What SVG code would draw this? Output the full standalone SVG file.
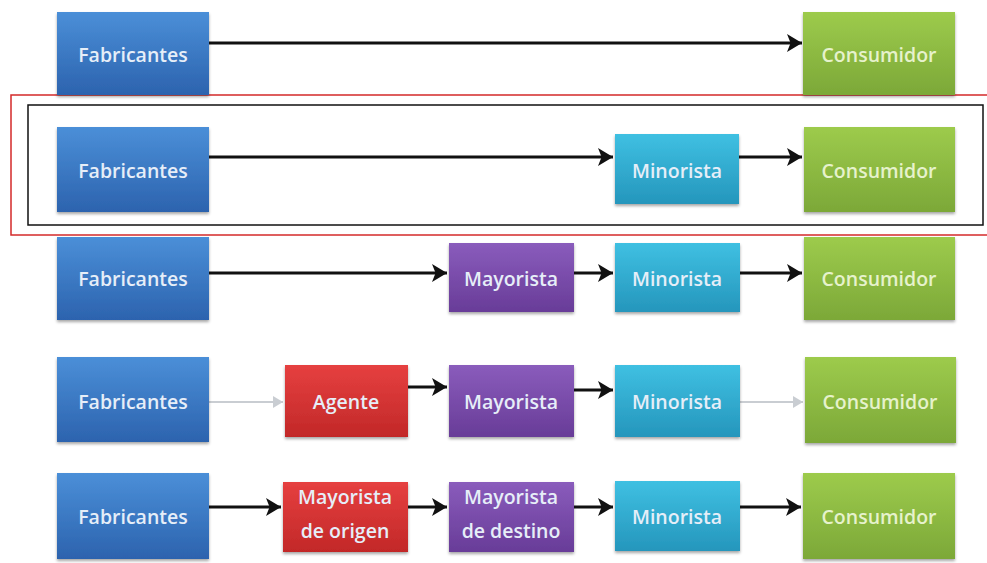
<svg xmlns="http://www.w3.org/2000/svg" width="987" height="563" viewBox="0 0 987 563">
<style>
text{font-family:"Open Sans","Liberation Sans",sans-serif;font-size:19.5px;font-weight:600;fill:#e6eef8;text-anchor:middle;dominant-baseline:central}
.green+text,.gt{fill:#e6f2cc}
.c{stroke:#111;stroke-width:3;fill:none;marker-end:url(#ah)}
.g{stroke:#c9cdd2;stroke-width:2;fill:none;marker-end:url(#ahg)}
.blue{fill:url(#gb)}.green{fill:url(#gg)}.cyan{fill:url(#gc)}.purple{fill:url(#gp)}.red{fill:url(#gr)}
rect.n{filter:url(#sh)}
</style>
<defs>
<linearGradient id="gb" x1="0" y1="0" x2="0" y2="1"><stop offset="0" stop-color="#4b8fd8"/><stop offset="1" stop-color="#2c63ae"/></linearGradient>
<linearGradient id="gg" x1="0" y1="0" x2="0" y2="1"><stop offset="0" stop-color="#9dcb4c"/><stop offset="1" stop-color="#7ca838"/></linearGradient>
<linearGradient id="gc" x1="0" y1="0" x2="0" y2="1"><stop offset="0" stop-color="#3fc0e2"/><stop offset="1" stop-color="#2596bc"/></linearGradient>
<linearGradient id="gp" x1="0" y1="0" x2="0" y2="1"><stop offset="0" stop-color="#8a5cbc"/><stop offset="1" stop-color="#683c98"/></linearGradient>
<linearGradient id="gr" x1="0" y1="0" x2="0" y2="1"><stop offset="0" stop-color="#e64040"/><stop offset="1" stop-color="#c22828"/></linearGradient>
<filter id="sh" x="-10%" y="-10%" width="120%" height="130%"><feDropShadow dx="0" dy="2" stdDeviation="1.5" flood-color="#000" flood-opacity="0.35"/></filter>
<marker id="ah" markerWidth="6" markerHeight="6" refX="5" refY="3" orient="auto" markerUnits="strokeWidth"><path d="M0,0 L5,3 L0,6 L1.2,3 Z" fill="#111"/></marker>
<marker id="ahg" markerWidth="6" markerHeight="6" refX="5" refY="3" orient="auto" markerUnits="strokeWidth"><path d="M0,0 L5,3 L0,6 Z" fill="#c9cdd2"/></marker>
</defs>
<rect width="987" height="563" fill="#fff"/>
<rect x="11" y="95" width="990" height="140" fill="none" stroke="#d42a2a" stroke-width="1.5"/>
<rect x="28" y="105" width="955" height="120" fill="none" stroke="#111" stroke-width="1.5"/>
<g id="connectors">
<path class="c" d="M209,43 H802"/>
<path class="c" d="M209,157 H613"/>
<path class="c" d="M739,157 H802"/>
<path class="c" d="M209,273 H447"/>
<path class="c" d="M574,273 H613"/>
<path class="c" d="M740,273 H802"/>
<path class="g" d="M209,402 H283"/>
<path class="c" d="M408,387 H447"/>
<path class="c" d="M574,390 H613"/>
<path class="g" d="M740,402 H803"/>
<path class="c" d="M209,507 H281"/>
<path class="c" d="M408,507 H447"/>
<path class="c" d="M574,507 H613"/>
<path class="c" d="M740,507 H801"/>
</g>
<g id="r1-fab"><rect class="n blue" x="57" y="12" width="152" height="83"/><text x="133" y="54">Fabricantes</text></g>
<g id="r1-con"><rect class="n green" x="803" y="12" width="152" height="83"/><text class="gt" x="879" y="54">Consumidor</text></g>
<g id="r2-fab"><rect class="n blue" x="57" y="127" width="152" height="85"/><text x="133" y="170">Fabricantes</text></g>
<g id="r2-min"><rect class="n cyan" x="615" y="134" width="124" height="70"/><text x="677" y="170">Minorista</text></g>
<g id="r2-con"><rect class="n green" x="804" y="127" width="151" height="85"/><text class="gt" x="879" y="170">Consumidor</text></g>
<g id="r3-fab"><rect class="n blue" x="57" y="237" width="152" height="83"/><text x="133" y="278">Fabricantes</text></g>
<g id="r3-may"><rect class="n purple" x="449" y="243" width="125" height="69"/><text x="511" y="278">Mayorista</text></g>
<g id="r3-min"><rect class="n cyan" x="615" y="243" width="125" height="69"/><text x="677" y="278">Minorista</text></g>
<g id="r3-con"><rect class="n green" x="804" y="237" width="151" height="83"/><text class="gt" x="879" y="278">Consumidor</text></g>
<g id="r4-fab"><rect class="n blue" x="57" y="357" width="152" height="85"/><text x="133" y="401">Fabricantes</text></g>
<g id="r4-age"><rect class="n red" x="285" y="365" width="123" height="72"/><text x="346" y="401">Agente</text></g>
<g id="r4-may"><rect class="n purple" x="449" y="365" width="125" height="72"/><text x="511" y="401">Mayorista</text></g>
<g id="r4-min"><rect class="n cyan" x="615" y="365" width="125" height="72"/><text x="677" y="401">Minorista</text></g>
<g id="r4-con"><rect class="n green" x="805" y="357" width="151" height="86"/><text class="gt" x="880" y="401">Consumidor</text></g>
<g id="r5-fab"><rect class="n blue" x="57" y="473" width="152" height="86"/><text x="133" y="516">Fabricantes</text></g>
<g id="r5-mo"><rect class="n red" x="283" y="482" width="125" height="70"/><text x="345" y="496">Mayorista</text><text x="345" y="530">de origen</text></g>
<g id="r5-md"><rect class="n purple" x="449" y="482" width="125" height="70"/><text x="511" y="496">Mayorista</text><text x="511" y="530">de destino</text></g>
<g id="r5-min"><rect class="n cyan" x="615" y="481" width="125" height="70"/><text x="677" y="516">Minorista</text></g>
<g id="r5-con"><rect class="n green" x="803" y="473" width="152" height="86"/><text class="gt" x="879" y="516">Consumidor</text></g>
</svg>
